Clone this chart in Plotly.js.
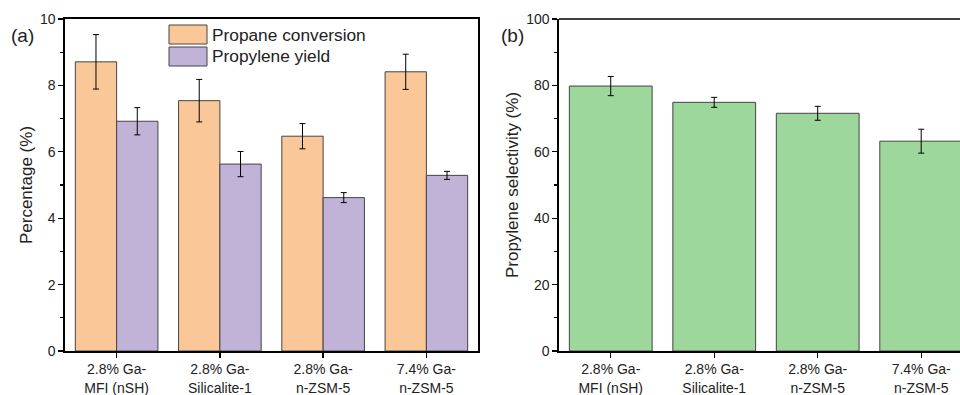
<!DOCTYPE html>
<html>
<head>
<meta charset="utf-8">
<script src="https://cdn.plot.ly/plotly-3.0.1.min.js"></script>
<style>html,body{margin:0;padding:0;background:#fff;}#chart{width:960px;height:395px;}</style>
</head>
<body>
<div id="chart"></div>
<script>
var categories = ["2.8% Ga-<br>MFI (nSH)", "2.8% Ga-<br>Silicalite-1", "2.8% Ga-<br>n-ZSM-5", "7.4% Ga-<br>n-ZSM-5"];
var seriesNames = ["Propane conversion", "Propylene yield"];
var propaneConversion = [8.71, 7.54, 6.47, 8.41];
var propaneConversionErr = [0.82, 0.64, 0.38, 0.53];
var propyleneYield = [6.92, 5.63, 4.62, 5.29];
var propyleneYieldErr = [0.41, 0.38, 0.15, 0.12];
var selectivityName = "Propylene selectivity";
var propyleneSelectivity = [79.8, 74.9, 71.6, 63.2];
var propyleneSelectivityErr = [2.9, 1.5, 2.1, 3.6];
var leftTicks = [0, 2, 4, 6, 8, 10];
var rightTicks = [0, 20, 40, 60, 80, 100];

var cOrange = "#FAC898", cPurple = "#C1B2D7", cGreen = "#9ED79B";
var font = "Liberation Sans, Arial, sans-serif";
var errStyle = {type: "data", visible: true, color: "#000", thickness: 1, width: 3};

var traces = [
  {type: "bar", name: seriesNames[0], x: categories, y: propaneConversion,
   error_y: Object.assign({array: propaneConversionErr}, errStyle),
   marker: {color: cOrange, line: {color: "#444", width: 1}}, xaxis: "x", yaxis: "y", showlegend: false},
  {type: "bar", name: seriesNames[1], x: categories, y: propyleneYield,
   error_y: Object.assign({array: propyleneYieldErr}, errStyle),
   marker: {color: cPurple, line: {color: "#444", width: 1}}, xaxis: "x", yaxis: "y", showlegend: false},
  {type: "bar", name: selectivityName, x: categories, y: propyleneSelectivity,
   error_y: Object.assign({array: propyleneSelectivityErr}, errStyle),
   marker: {color: cGreen, line: {color: "#444", width: 1}}, xaxis: "x2", yaxis: "y2", showlegend: false}
];

var axisCommon = {showline: true, linecolor: "#000", linewidth: 1.6, ticks: "outside", ticklen: 5, tickwidth: 1.3,
  tickcolor: "#000", showgrid: false, zeroline: false, tickfont: {family: font, size: 14, color: "#222"}};

var W = 960, H = 395;
function px(x){return x / W;}

var layout = {
  width: W, height: H,
  margin: {l: 0, r: 0, t: 19, b: 44},
  paper_bgcolor: "#fff", plot_bgcolor: "#fff",
  barmode: "group", bargap: 0.2, bargroupgap: 0,
  font: {family: font, color: "#222"},
  xaxis: Object.assign({}, axisCommon, {domain: [px(65), px(478)], range: [-0.5, 3.5], anchor: "y",
    mirror: true, ticklen: 5, minor: {ticks: "outside", ticklen: 4, tickwidth: 1.3, tickcolor: "#000", dtick: 1, tick0: -0.5}}),
  yaxis: Object.assign({}, axisCommon, {domain: [0, 1], range: [0, 10], anchor: "x", mirror: true,
    tickvals: leftTicks, minor: {ticks: "outside", ticklen: 3, tickwidth: 1.3, tickcolor: "#000", dtick: 1},
    title: {text: "Percentage (%)", font: {family: font, size: 17, color: "#222"}, standoff: 3}}),
  xaxis2: Object.assign({}, axisCommon, {domain: [px(559), 1], range: [-0.5, 3.375], anchor: "y2",
    minor: {ticks: "outside", ticklen: 4, tickwidth: 1.3, tickcolor: "#000", dtick: 1, tick0: -0.5}}),
  yaxis2: Object.assign({}, axisCommon, {domain: [0, 1], range: [0, 100], anchor: "x2",
    tickvals: rightTicks, minor: {ticks: "outside", ticklen: 3, tickwidth: 1.3, tickcolor: "#000", dtick: 10},
    title: {text: "Propylene selectivity (%)", font: {family: font, size: 17, color: "#222"}, standoff: 3}}),
  shapes: [
    {type: "line", xref: "paper", yref: "paper", x0: px(559), x1: 1, y0: 1, y1: 1, line: {color: "#000", width: 1.6}},
    {type: "rect", xref: "paper", yref: "paper", x0: px(169), x1: px(207), y0: 1 - (25 - 19) / 332, y1: 1 - (44 - 19) / 332,
     fillcolor: cOrange, line: {color: "#444", width: 1}},
    {type: "rect", xref: "paper", yref: "paper", x0: px(169), x1: px(207), y0: 1 - (47 - 19) / 332, y1: 1 - (66 - 19) / 332,
     fillcolor: cPurple, line: {color: "#444", width: 1}}
  ],
  annotations: [
    {xref: "paper", yref: "paper", x: px(9), y: 1 - (36 - 19) / 332, text: "(a)", showarrow: false, xanchor: "left", yanchor: "middle",
     font: {family: font, size: 19, color: "#222"}},
    {xref: "paper", yref: "paper", x: px(499), y: 1 - (36 - 19) / 332, text: "(b)", showarrow: false, xanchor: "left", yanchor: "middle",
     font: {family: font, size: 19, color: "#222"}},
    {xref: "paper", yref: "paper", x: px(210), y: 1 - (35 - 19) / 332, text: seriesNames[0], showarrow: false, xanchor: "left", yanchor: "middle",
     font: {family: font, size: 17.3, color: "#222"}},
    {xref: "paper", yref: "paper", x: px(210), y: 1 - (56.5 - 19) / 332, text: seriesNames[1], showarrow: false, xanchor: "left", yanchor: "middle",
     font: {family: font, size: 17.3, color: "#222"}}
  ]
};

Plotly.newPlot("chart", traces, layout, {displayModeBar: false, staticPlot: true});
</script>
</body>
</html>
